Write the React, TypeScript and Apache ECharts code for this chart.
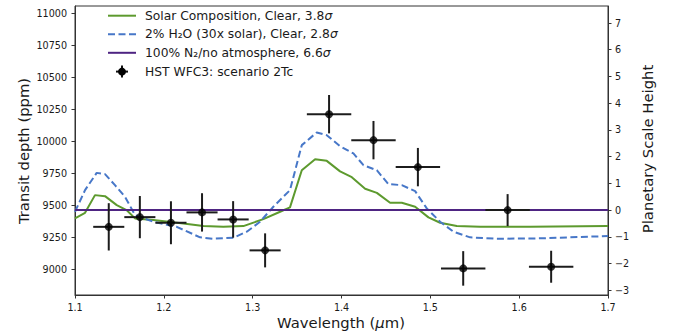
import React, { useEffect, useRef } from 'react';
import * as echarts from 'echarts';

// ---- Observations (HST WFC3: scenario 2Tc) ----
const obsWavelength = [1.138, 1.173, 1.208, 1.243, 1.278, 1.314, 1.386, 1.436, 1.486, 1.537, 1.587, 1.636];
const obsDepth = [9330, 9406, 9362, 9443, 9388, 9146, 10211, 10008, 9797, 9005, 9461, 9018];
const obsWavelengthErr = [0.0175, 0.0175, 0.0175, 0.0175, 0.0175, 0.0175, 0.025, 0.025, 0.025, 0.025, 0.025, 0.025];
const obsDepthErr = [185, 165, 168, 150, 143, 133, 150, 150, 150, 135, 125, 125];

// ---- Models ----
const solarWavelength = [1.1, 1.1113, 1.1225, 1.1338, 1.147, 1.158, 1.1676, 1.1882, 1.222, 1.2445, 1.267, 1.2895, 1.312, 1.3309, 1.342, 1.3553, 1.3703, 1.3834, 1.3984, 1.4116, 1.4266, 1.4398, 1.4547, 1.4679, 1.4829, 1.4979, 1.511, 1.5298, 1.556, 1.6124, 1.7];
const solarDepth = [9396, 9440, 9578, 9570, 9500, 9461, 9396, 9383, 9357, 9336, 9330, 9336, 9390, 9448, 9482, 9773, 9859, 9846, 9764, 9718, 9628, 9596, 9518, 9518, 9487, 9404, 9362, 9336, 9330, 9330, 9336];

const waterWavelength = [1.1, 1.1113, 1.1244, 1.1338, 1.145, 1.1563, 1.1676, 1.1882, 1.2145, 1.2408, 1.2557, 1.2783, 1.2934, 1.3083, 1.3233, 1.342, 1.3553, 1.3721, 1.3834, 1.3984, 1.4134, 1.4247, 1.4397, 1.4528, 1.4679, 1.4829, 1.496, 1.511, 1.526, 1.5448, 1.5749, 1.6236, 1.7];
const waterDepth = [9448, 9617, 9752, 9742, 9656, 9565, 9422, 9370, 9330, 9248, 9237, 9245, 9292, 9370, 9487, 9617, 9969, 10068, 10047, 9960, 9904, 9812, 9773, 9664, 9656, 9609, 9474, 9370, 9292, 9248, 9237, 9240, 9258];

const flatWavelength = [1.1, 1.7];
const flatDepth = [9461, 9461];

// ---- Axes ----
const xTicks = [1.1, 1.2, 1.3, 1.4, 1.5, 1.6, 1.7];
const depthTicks = [9000, 9250, 9500, 9750, 10000, 10250, 10500, 10750, 11000];
const scaleHeightTicks = [-3, -2, -1, 0, 1, 2, 3, 4, 5, 6, 7];
const DEPTH_MIN = 8797;
const DEPTH_MAX = 11057;
const ZERO_DEPTH = 9461; // depth at 0 scale heights
const SCALE_HEIGHT_PPM = 209; // ppm per scale height

const legendLabels = [
  'Solar Composition, Clear, 3.8{i|σ}',
  '2% H₂O (30x solar), Clear, 2.8{i|σ}',
  '100% N₂/no atmosphere, 6.6{i|σ}',
  'HST WFC3: scenario 2Tc',
];

const GREEN = '#5d9a2e';
const BLUE = '#4777c8';
const PURPLE = '#4e2482';
const FONT = 'DejaVu Sans';
const TEXT = '#1a1a1a';

export default function App() {
  const ref = useRef<HTMLDivElement>(null);
  useEffect(() => {
    if (!ref.current) return;
    const chart = echarts.init(ref.current, undefined, { renderer: 'svg' });

    const legendRowY = [15.7, 34.3, 52.8, 71.6];
    const legendGraphics: any[] = [];
    const lineStyles = [
      { stroke: GREEN, lineWidth: 2 },
      { stroke: BLUE, lineWidth: 2, lineDash: [7, 3.5] },
      { stroke: PURPLE, lineWidth: 2 },
    ];
    lineStyles.forEach((s, i) => {
      legendGraphics.push({
        type: 'line',
        shape: { x1: 108, y1: legendRowY[i], x2: 136, y2: legendRowY[i] },
        style: s,
        silent: true,
      });
    });
    legendGraphics.push(
      { type: 'line', shape: { x1: 116, y1: legendRowY[3], x2: 128, y2: legendRowY[3] }, style: { stroke: '#111', lineWidth: 2 } },
      { type: 'line', shape: { x1: 122, y1: legendRowY[3] - 6, x2: 122, y2: legendRowY[3] + 6 }, style: { stroke: '#111', lineWidth: 2 } },
      { type: 'circle', shape: { cx: 122, cy: legendRowY[3], r: 4 }, style: { fill: '#000' } },
    );
    legendLabels.forEach((t, i) => {
      legendGraphics.push({
        type: 'text',
        x: 145,
        y: legendRowY[i],
        style: {
          text: t,
          fontFamily: FONT,
          fontSize: 12.3,
          fill: TEXT,
          align: 'left',
          verticalAlign: 'middle',
          rich: { i: { fontStyle: 'italic', fontFamily: FONT, fontSize: 12.3, fill: TEXT } },
        },
      });
    });

    const axisTitleStyle = { fontFamily: FONT, fontSize: 14.8, fill: TEXT, align: 'center', verticalAlign: 'middle' };

    const option: any = {
      animation: false,
      backgroundColor: '#fff',
      grid: {
        left: 75,
        right: 72,
        top: 6,
        bottom: 41,
        show: true,
        borderColor: '#333',
        borderWidth: 1,
        backgroundColor: 'transparent',
        containLabel: false,
      },
      xAxis: {
        type: 'value',
        min: 1.1,
        max: 1.7,
        axisLine: { show: true, onZero: false, lineStyle: { color: '#333', width: 1 } },
        axisTick: { show: true, inside: false, length: 3.5, customValues: xTicks, lineStyle: { color: '#333' } },
        axisLabel: {
          customValues: xTicks,
          formatter: (v: number) => v.toFixed(1),
          fontFamily: FONT,
          fontSize: 9.6,
          color: TEXT,
          margin: 7,
        },
        splitLine: { show: false },
      },
      yAxis: [
        {
          type: 'value',
          min: DEPTH_MIN,
          max: DEPTH_MAX,
          position: 'left',
          axisLine: { show: true, lineStyle: { color: '#333', width: 1 } },
          axisTick: { show: true, inside: false, length: 3.5, customValues: depthTicks, lineStyle: { color: '#333' } },
          axisLabel: {
            customValues: depthTicks,
            formatter: (v: number) => String(Math.round(v)),
            fontFamily: FONT,
            fontSize: 9.6,
            color: TEXT,
            margin: 8,
          },
          splitLine: { show: false },
        },
        {
          type: 'value',
          min: (DEPTH_MIN - ZERO_DEPTH) / SCALE_HEIGHT_PPM,
          max: (DEPTH_MAX - ZERO_DEPTH) / SCALE_HEIGHT_PPM,
          position: 'right',
          axisLine: { show: true, lineStyle: { color: '#333', width: 1 } },
          axisTick: { show: true, inside: false, length: 3.5, customValues: scaleHeightTicks, lineStyle: { color: '#333' } },
          axisLabel: {
            customValues: scaleHeightTicks,
            formatter: (v: number) => (v < 0 ? '\u2212' + Math.abs(v) : String(v)),
            fontFamily: FONT,
            fontSize: 9.6,
            color: TEXT,
            margin: 7,
          },
          splitLine: { show: false },
        },
      ],
      series: [
        {
          name: 'Solar Composition, Clear, 3.8σ',
          type: 'line',
          data: solarWavelength.map((w, i) => [w, solarDepth[i]]),
          showSymbol: false,
          lineStyle: { color: GREEN, width: 2 },
          itemStyle: { color: GREEN },
          z: 2,
          silent: true,
        },
        {
          name: '2% H₂O (30x solar), Clear, 2.8σ',
          type: 'line',
          data: waterWavelength.map((w, i) => [w, waterDepth[i]]),
          showSymbol: false,
          lineStyle: { color: BLUE, width: 2, type: [7, 3.5] },
          itemStyle: { color: BLUE },
          z: 2,
          silent: true,
        },
        {
          name: '100% N₂/no atmosphere, 6.6σ',
          type: 'line',
          data: flatWavelength.map((w, i) => [w, flatDepth[i]]),
          showSymbol: false,
          lineStyle: { color: PURPLE, width: 2 },
          itemStyle: { color: PURPLE },
          z: 2,
          silent: true,
        },
        {
          name: 'HST WFC3 errors',
          type: 'custom',
          data: obsWavelength.map((w, i) => [w, obsDepth[i], obsWavelengthErr[i], obsDepthErr[i]]),
          encode: { x: 0, y: 1 },
          renderItem: (_params: any, api: any) => {
            const x = api.value(0);
            const y = api.value(1);
            const xe = api.value(2);
            const ye = api.value(3);
            const l = api.coord([x - xe, y]);
            const r = api.coord([x + xe, y]);
            const t = api.coord([x, y + ye]);
            const b = api.coord([x, y - ye]);
            const style = { stroke: '#1c1c1c', lineWidth: 2 };
            return {
              type: 'group',
              children: [
                { type: 'line', shape: { x1: l[0], y1: l[1], x2: r[0], y2: r[1] }, style },
                { type: 'line', shape: { x1: t[0], y1: t[1], x2: b[0], y2: b[1] }, style },
              ],
            };
          },
          z: 3,
          silent: true,
        },
        {
          name: 'HST WFC3: scenario 2Tc',
          type: 'scatter',
          data: obsWavelength.map((w, i) => [w, obsDepth[i]]),
          symbol: 'circle',
          symbolSize: 8,
          itemStyle: { color: '#000' },
          z: 4,
          silent: true,
        },
      ],
      graphic: [
        ...legendGraphics,
        { type: 'text', x: 23, y: 151, rotation: Math.PI / 2, style: { ...axisTitleStyle, text: 'Transit depth (ppm)' } },
        { type: 'text', x: 647, y: 149, rotation: Math.PI / 2, style: { ...axisTitleStyle, text: 'Planetary Scale Height' } },
        {
          type: 'text',
          x: 341,
          y: 322,
          style: {
            ...axisTitleStyle,
            text: 'Wavelength ({i|μ}m)',
            rich: { i: { fontStyle: 'italic', fontFamily: FONT, fontSize: 14.8, fill: TEXT } },
          },
        },
      ],
    };
    chart.setOption(option);
    return () => chart.dispose();
  }, []);
  return <div ref={ref} style={{ position: 'absolute', left: 0, top: 0, width: 680, height: 336 }} />;
}
